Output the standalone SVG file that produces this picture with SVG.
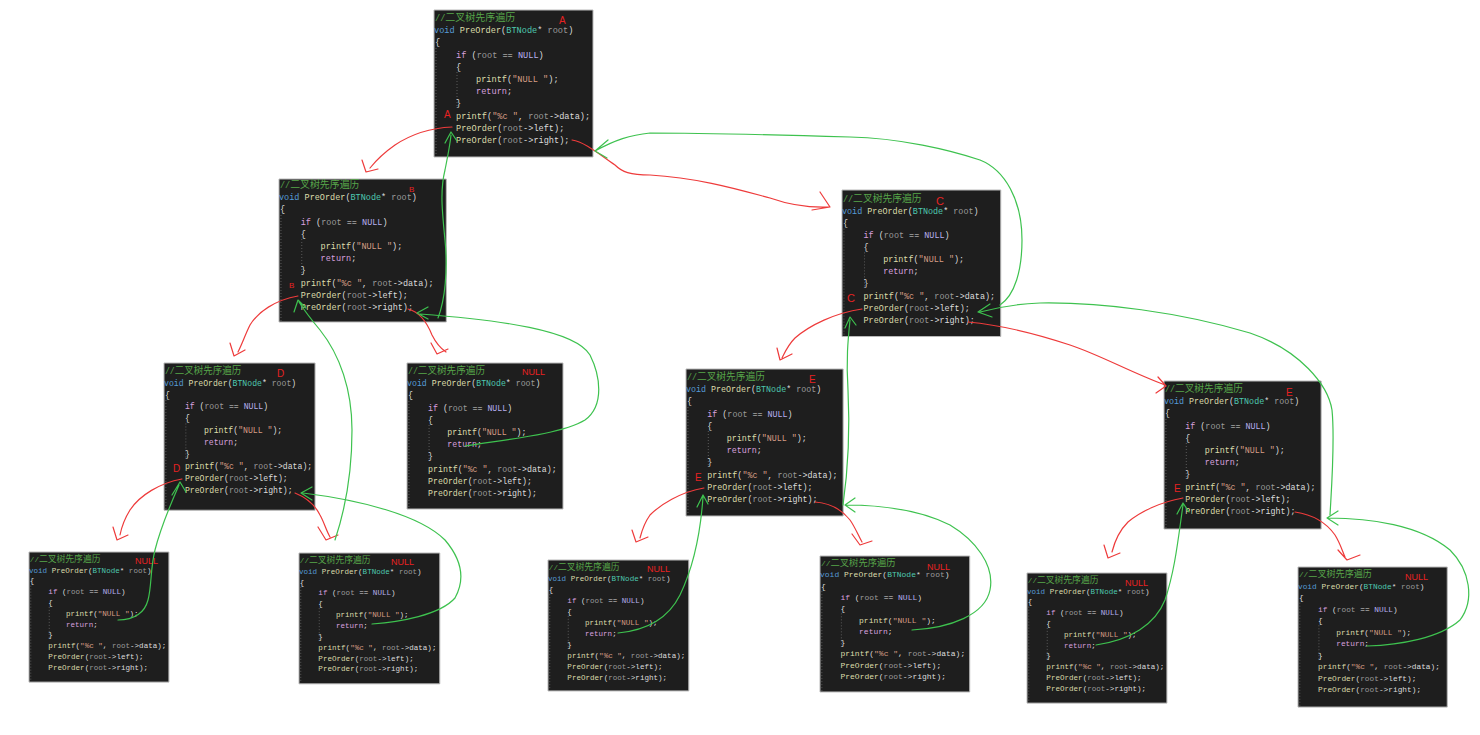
<svg xmlns="http://www.w3.org/2000/svg" width="1480" height="735" viewBox="0 0 1480 735">
<style>
.bx{fill:#1e1e1e;stroke:#b9b9b9;stroke-width:1}
.c{font-family:"Liberation Mono","DejaVu Sans Mono",monospace;font-size:8.6px;fill:#dcdcdc}
.cm{fill:#57a64a}
.cj{font-family:"Noto Sans CJK SC",sans-serif;font-size:10px}
.kw{fill:#569cd6}
.fn{fill:#dcdcaa}
.ty{fill:#4ec9b0}
.pm{fill:#9a9a9a}
.k2{fill:#d8a0df}
.mc{fill:#b8b0f0}
.st{fill:#d69d85}
.gd{fill:none;stroke:#6a6a6a;stroke-width:0.8;stroke-dasharray:1 2}
.lb{font-family:"Liberation Sans",Arial,sans-serif;font-size:10px;fill:#e62222}
.r{fill:none;stroke:#ee3b3b;stroke-width:1.2;stroke-linecap:round;stroke-linejoin:round}
.g{fill:none;stroke:#3ec24f;stroke-width:1.2;stroke-linecap:round;stroke-linejoin:round}
</style>
<rect width="1480" height="735" fill="#ffffff"/>

<g id="nodeA">
<g transform="translate(434,10)">
<rect class="bx" width="159" height="147" vector-effect="non-scaling-stroke"/>
<path class="gd" d="M2,38V146M23,62V98" vector-effect="non-scaling-stroke"/>
<text class="c" x="1" y="11"><tspan class="cm">//</tspan><tspan class="cm cj">二叉树先序遍历</tspan></text>
<text class="c" x="0" y="23.2"><tspan class="kw">void</tspan> <tspan class="fn">PreOrder</tspan>(<tspan class="ty">BTNode</tspan>* <tspan class="pm">root</tspan>)</text>
<text class="c" x="1" y="35.4">{</text>
<text class="c" x="22" y="47.6"><tspan class="k2">if</tspan> (<tspan class="pm">root</tspan> == <tspan class="mc">NULL</tspan>)</text>
<text class="c" x="22" y="59.8">{</text>
<text class="c" x="42" y="72"><tspan class="fn">printf</tspan>(<tspan class="st">"NULL "</tspan>);</text>
<text class="c" x="42" y="84.2"><tspan class="k2">return</tspan>;</text>
<text class="c" x="22" y="96.4">}</text>
<text class="c" x="22" y="108.6"><tspan class="fn">printf</tspan>(<tspan class="st">"%c "</tspan>, <tspan class="pm">root</tspan>-&gt;data);</text>
<text class="c" x="22" y="120.8"><tspan class="fn">PreOrder</tspan>(<tspan class="pm">root</tspan>-&gt;left);</text>
<text class="c" x="22" y="133"><tspan class="fn">PreOrder</tspan>(<tspan class="pm">root</tspan>-&gt;right);</text>
</g>
<text class="lb" x="559" y="24">A</text>
<text class="lb" x="444" y="118">A</text>
</g>

<g id="nodeB">
<g transform="translate(279,177) scale(0.99,1)">
<rect class="bx" y="2" width="169" height="143" vector-effect="non-scaling-stroke"/>
<path class="gd" d="M2,38V146M23,62V98" vector-effect="non-scaling-stroke"/>
<text class="c" x="1" y="11"><tspan class="cm">//</tspan><tspan class="cm cj">二叉树先序遍历</tspan></text>
<text class="c" x="0" y="23.2"><tspan class="kw">void</tspan> <tspan class="fn">PreOrder</tspan>(<tspan class="ty">BTNode</tspan>* <tspan class="pm">root</tspan>)</text>
<text class="c" x="1" y="35.4">{</text>
<text class="c" x="22" y="47.6"><tspan class="k2">if</tspan> (<tspan class="pm">root</tspan> == <tspan class="mc">NULL</tspan>)</text>
<text class="c" x="22" y="59.8">{</text>
<text class="c" x="42" y="72"><tspan class="fn">printf</tspan>(<tspan class="st">"NULL "</tspan>);</text>
<text class="c" x="42" y="84.2"><tspan class="k2">return</tspan>;</text>
<text class="c" x="22" y="96.4">}</text>
<text class="c" x="22" y="108.6"><tspan class="fn">printf</tspan>(<tspan class="st">"%c "</tspan>, <tspan class="pm">root</tspan>-&gt;data);</text>
<text class="c" x="22" y="120.8"><tspan class="fn">PreOrder</tspan>(<tspan class="pm">root</tspan>-&gt;left);</text>
<text class="c" x="22" y="133"><tspan class="fn">PreOrder</tspan>(<tspan class="pm">root</tspan>-&gt;right);</text>
</g>
<text class="lb" x="409" y="192" style="font-size:8px">B</text>
<text class="lb" x="289" y="288" style="font-size:8px">B</text>
</g>

<g id="nodeC">
<g transform="translate(842,191) scale(0.98,0.99)">
<rect class="bx" y="-1" width="162" height="148" vector-effect="non-scaling-stroke"/>
<path class="gd" d="M2,38V146M23,62V98" vector-effect="non-scaling-stroke"/>
<text class="c" x="1" y="11"><tspan class="cm">//</tspan><tspan class="cm cj">二叉树先序遍历</tspan></text>
<text class="c" x="0" y="23.2"><tspan class="kw">void</tspan> <tspan class="fn">PreOrder</tspan>(<tspan class="ty">BTNode</tspan>* <tspan class="pm">root</tspan>)</text>
<text class="c" x="1" y="35.4">{</text>
<text class="c" x="22" y="47.6"><tspan class="k2">if</tspan> (<tspan class="pm">root</tspan> == <tspan class="mc">NULL</tspan>)</text>
<text class="c" x="22" y="59.8">{</text>
<text class="c" x="42" y="72"><tspan class="fn">printf</tspan>(<tspan class="st">"NULL "</tspan>);</text>
<text class="c" x="42" y="84.2"><tspan class="k2">return</tspan>;</text>
<text class="c" x="22" y="96.4">}</text>
<text class="c" x="22" y="108.6"><tspan class="fn">printf</tspan>(<tspan class="st">"%c "</tspan>, <tspan class="pm">root</tspan>-&gt;data);</text>
<text class="c" x="22" y="120.8"><tspan class="fn">PreOrder</tspan>(<tspan class="pm">root</tspan>-&gt;left);</text>
<text class="c" x="22" y="133"><tspan class="fn">PreOrder</tspan>(<tspan class="pm">root</tspan>-&gt;right);</text>
</g>
<text class="lb" x="936" y="205" style="font-size:11px">C</text>
<text class="lb" x="847" y="302" style="font-size:11px">C</text>
</g>

<g id="nodeD">
<g transform="translate(164,363) scale(0.95,0.975)">
<rect class="bx" width="159" height="151" vector-effect="non-scaling-stroke"/>
<path class="gd" d="M2,38V150M23,62V98" vector-effect="non-scaling-stroke"/>
<text class="c" x="1" y="11"><tspan class="cm">//</tspan><tspan class="cm cj">二叉树先序遍历</tspan></text>
<text class="c" x="0" y="23.2"><tspan class="kw">void</tspan> <tspan class="fn">PreOrder</tspan>(<tspan class="ty">BTNode</tspan>* <tspan class="pm">root</tspan>)</text>
<text class="c" x="1" y="35.4">{</text>
<text class="c" x="22" y="47.6"><tspan class="k2">if</tspan> (<tspan class="pm">root</tspan> == <tspan class="mc">NULL</tspan>)</text>
<text class="c" x="22" y="59.8">{</text>
<text class="c" x="42" y="72"><tspan class="fn">printf</tspan>(<tspan class="st">"NULL "</tspan>);</text>
<text class="c" x="42" y="84.2"><tspan class="k2">return</tspan>;</text>
<text class="c" x="22" y="96.4">}</text>
<text class="c" x="22" y="108.6"><tspan class="fn">printf</tspan>(<tspan class="st">"%c "</tspan>, <tspan class="pm">root</tspan>-&gt;data);</text>
<text class="c" x="22" y="120.8"><tspan class="fn">PreOrder</tspan>(<tspan class="pm">root</tspan>-&gt;left);</text>
<text class="c" x="22" y="133"><tspan class="fn">PreOrder</tspan>(<tspan class="pm">root</tspan>-&gt;right);</text>
</g>
<text class="lb" x="277" y="377">D</text>
<text class="lb" x="173" y="472">D</text>
</g>

<g id="nodeNull1">
<g transform="translate(407,363) scale(0.96,1)">
<rect class="bx" width="162.5" height="146" vector-effect="non-scaling-stroke"/>
<path class="gd" d="M2,38V145M23,62V98" vector-effect="non-scaling-stroke"/>
<text class="c" x="1" y="11"><tspan class="cm">//</tspan><tspan class="cm cj">二叉树先序遍历</tspan></text>
<text class="c" x="0" y="23.2"><tspan class="kw">void</tspan> <tspan class="fn">PreOrder</tspan>(<tspan class="ty">BTNode</tspan>* <tspan class="pm">root</tspan>)</text>
<text class="c" x="1" y="35.4">{</text>
<text class="c" x="22" y="47.6"><tspan class="k2">if</tspan> (<tspan class="pm">root</tspan> == <tspan class="mc">NULL</tspan>)</text>
<text class="c" x="22" y="59.8">{</text>
<text class="c" x="42" y="72"><tspan class="fn">printf</tspan>(<tspan class="st">"NULL "</tspan>);</text>
<text class="c" x="42" y="84.2"><tspan class="k2">return</tspan>;</text>
<text class="c" x="22" y="96.4">}</text>
<text class="c" x="22" y="108.6"><tspan class="fn">printf</tspan>(<tspan class="st">"%c "</tspan>, <tspan class="pm">root</tspan>-&gt;data);</text>
<text class="c" x="22" y="120.8"><tspan class="fn">PreOrder</tspan>(<tspan class="pm">root</tspan>-&gt;left);</text>
<text class="c" x="22" y="133"><tspan class="fn">PreOrder</tspan>(<tspan class="pm">root</tspan>-&gt;right);</text>
</g>
<text class="lb" x="522" y="375" style="font-size:9px">NULL</text>
</g>

<g id="nodeE1">
<g transform="translate(686,369) scale(0.97,1)">
<rect class="bx" width="162" height="147" vector-effect="non-scaling-stroke"/>
<path class="gd" d="M2,38V146M23,62V98" vector-effect="non-scaling-stroke"/>
<text class="c" x="1" y="11"><tspan class="cm">//</tspan><tspan class="cm cj">二叉树先序遍历</tspan></text>
<text class="c" x="0" y="23.2"><tspan class="kw">void</tspan> <tspan class="fn">PreOrder</tspan>(<tspan class="ty">BTNode</tspan>* <tspan class="pm">root</tspan>)</text>
<text class="c" x="1" y="35.4">{</text>
<text class="c" x="22" y="47.6"><tspan class="k2">if</tspan> (<tspan class="pm">root</tspan> == <tspan class="mc">NULL</tspan>)</text>
<text class="c" x="22" y="59.8">{</text>
<text class="c" x="42" y="72"><tspan class="fn">printf</tspan>(<tspan class="st">"NULL "</tspan>);</text>
<text class="c" x="42" y="84.2"><tspan class="k2">return</tspan>;</text>
<text class="c" x="22" y="96.4">}</text>
<text class="c" x="22" y="108.6"><tspan class="fn">printf</tspan>(<tspan class="st">"%c "</tspan>, <tspan class="pm">root</tspan>-&gt;data);</text>
<text class="c" x="22" y="120.8"><tspan class="fn">PreOrder</tspan>(<tspan class="pm">root</tspan>-&gt;left);</text>
<text class="c" x="22" y="133"><tspan class="fn">PreOrder</tspan>(<tspan class="pm">root</tspan>-&gt;right);</text>
</g>
<text class="lb" x="809" y="383">E</text>
<text class="lb" x="695" y="481">E</text>
</g>

<g id="nodeE2">
<g transform="translate(1164,381) scale(0.97,1)">
<rect class="bx" width="162" height="148" vector-effect="non-scaling-stroke"/>
<path class="gd" d="M2,38V147M23,62V98" vector-effect="non-scaling-stroke"/>
<text class="c" x="1" y="11"><tspan class="cm">//</tspan><tspan class="cm cj">二叉树先序遍历</tspan></text>
<text class="c" x="0" y="23.2"><tspan class="kw">void</tspan> <tspan class="fn">PreOrder</tspan>(<tspan class="ty">BTNode</tspan>* <tspan class="pm">root</tspan>)</text>
<text class="c" x="1" y="35.4">{</text>
<text class="c" x="22" y="47.6"><tspan class="k2">if</tspan> (<tspan class="pm">root</tspan> == <tspan class="mc">NULL</tspan>)</text>
<text class="c" x="22" y="59.8">{</text>
<text class="c" x="42" y="72"><tspan class="fn">printf</tspan>(<tspan class="st">"NULL "</tspan>);</text>
<text class="c" x="42" y="84.2"><tspan class="k2">return</tspan>;</text>
<text class="c" x="22" y="96.4">}</text>
<text class="c" x="22" y="108.6"><tspan class="fn">printf</tspan>(<tspan class="st">"%c "</tspan>, <tspan class="pm">root</tspan>-&gt;data);</text>
<text class="c" x="22" y="120.8"><tspan class="fn">PreOrder</tspan>(<tspan class="pm">root</tspan>-&gt;left);</text>
<text class="c" x="22" y="133"><tspan class="fn">PreOrder</tspan>(<tspan class="pm">root</tspan>-&gt;right);</text>
</g>
<text class="lb" x="1286" y="396">E</text>
<text class="lb" x="1174" y="492">E</text>
</g>

<g id="nodeNull2">
<g transform="translate(29,552) scale(0.88,0.885)">
<rect class="bx" width="159" height="147" vector-effect="non-scaling-stroke"/>
<path class="gd" d="M2,38V146M23,62V98" vector-effect="non-scaling-stroke"/>
<text class="c" x="1" y="11"><tspan class="cm">//</tspan><tspan class="cm cj">二叉树先序遍历</tspan></text>
<text class="c" x="0" y="23.2"><tspan class="kw">void</tspan> <tspan class="fn">PreOrder</tspan>(<tspan class="ty">BTNode</tspan>* <tspan class="pm">root</tspan>)</text>
<text class="c" x="1" y="35.4">{</text>
<text class="c" x="22" y="47.6"><tspan class="k2">if</tspan> (<tspan class="pm">root</tspan> == <tspan class="mc">NULL</tspan>)</text>
<text class="c" x="22" y="59.8">{</text>
<text class="c" x="42" y="72"><tspan class="fn">printf</tspan>(<tspan class="st">"NULL "</tspan>);</text>
<text class="c" x="42" y="84.2"><tspan class="k2">return</tspan>;</text>
<text class="c" x="22" y="96.4">}</text>
<text class="c" x="22" y="108.6"><tspan class="fn">printf</tspan>(<tspan class="st">"%c "</tspan>, <tspan class="pm">root</tspan>-&gt;data);</text>
<text class="c" x="22" y="120.8"><tspan class="fn">PreOrder</tspan>(<tspan class="pm">root</tspan>-&gt;left);</text>
<text class="c" x="22" y="133"><tspan class="fn">PreOrder</tspan>(<tspan class="pm">root</tspan>-&gt;right);</text>
</g>
<text class="lb" x="135" y="564" style="font-size:9px">NULL</text>
</g>

<g id="nodeNull3">
<g transform="translate(299,553) scale(0.88,0.89)">
<rect class="bx" width="160" height="147" vector-effect="non-scaling-stroke"/>
<path class="gd" d="M2,38V146M23,62V98" vector-effect="non-scaling-stroke"/>
<text class="c" x="1" y="11"><tspan class="cm">//</tspan><tspan class="cm cj">二叉树先序遍历</tspan></text>
<text class="c" x="0" y="23.2"><tspan class="kw">void</tspan> <tspan class="fn">PreOrder</tspan>(<tspan class="ty">BTNode</tspan>* <tspan class="pm">root</tspan>)</text>
<text class="c" x="1" y="35.4">{</text>
<text class="c" x="22" y="47.6"><tspan class="k2">if</tspan> (<tspan class="pm">root</tspan> == <tspan class="mc">NULL</tspan>)</text>
<text class="c" x="22" y="59.8">{</text>
<text class="c" x="42" y="72"><tspan class="fn">printf</tspan>(<tspan class="st">"NULL "</tspan>);</text>
<text class="c" x="42" y="84.2"><tspan class="k2">return</tspan>;</text>
<text class="c" x="22" y="96.4">}</text>
<text class="c" x="22" y="108.6"><tspan class="fn">printf</tspan>(<tspan class="st">"%c "</tspan>, <tspan class="pm">root</tspan>-&gt;data);</text>
<text class="c" x="22" y="120.8"><tspan class="fn">PreOrder</tspan>(<tspan class="pm">root</tspan>-&gt;left);</text>
<text class="c" x="22" y="133"><tspan class="fn">PreOrder</tspan>(<tspan class="pm">root</tspan>-&gt;right);</text>
</g>
<text class="lb" x="391" y="565" style="font-size:9px">NULL</text>
</g>

<g id="nodeNull4">
<g transform="translate(548,560) scale(0.88,0.9)">
<rect class="bx" width="160" height="145.5" vector-effect="non-scaling-stroke"/>
<path class="gd" d="M2,38V145M23,62V98" vector-effect="non-scaling-stroke"/>
<text class="c" x="1" y="11"><tspan class="cm">//</tspan><tspan class="cm cj">二叉树先序遍历</tspan></text>
<text class="c" x="0" y="23.2"><tspan class="kw">void</tspan> <tspan class="fn">PreOrder</tspan>(<tspan class="ty">BTNode</tspan>* <tspan class="pm">root</tspan>)</text>
<text class="c" x="1" y="35.4">{</text>
<text class="c" x="22" y="47.6"><tspan class="k2">if</tspan> (<tspan class="pm">root</tspan> == <tspan class="mc">NULL</tspan>)</text>
<text class="c" x="22" y="59.8">{</text>
<text class="c" x="42" y="72"><tspan class="fn">printf</tspan>(<tspan class="st">"NULL "</tspan>);</text>
<text class="c" x="42" y="84.2"><tspan class="k2">return</tspan>;</text>
<text class="c" x="22" y="96.4">}</text>
<text class="c" x="22" y="108.6"><tspan class="fn">printf</tspan>(<tspan class="st">"%c "</tspan>, <tspan class="pm">root</tspan>-&gt;data);</text>
<text class="c" x="22" y="120.8"><tspan class="fn">PreOrder</tspan>(<tspan class="pm">root</tspan>-&gt;left);</text>
<text class="c" x="22" y="133"><tspan class="fn">PreOrder</tspan>(<tspan class="pm">root</tspan>-&gt;right);</text>
</g>
<text class="lb" x="647" y="572" style="font-size:9px">NULL</text>
</g>

<g id="nodeNull5">
<g transform="translate(820,556) scale(0.93,0.925)">
<rect class="bx" width="161" height="147" vector-effect="non-scaling-stroke"/>
<path class="gd" d="M2,38V146M23,62V98" vector-effect="non-scaling-stroke"/>
<text class="c" x="1" y="11"><tspan class="cm">//</tspan><tspan class="cm cj">二叉树先序遍历</tspan></text>
<text class="c" x="0" y="23.2"><tspan class="kw">void</tspan> <tspan class="fn">PreOrder</tspan>(<tspan class="ty">BTNode</tspan>* <tspan class="pm">root</tspan>)</text>
<text class="c" x="1" y="35.4">{</text>
<text class="c" x="22" y="47.6"><tspan class="k2">if</tspan> (<tspan class="pm">root</tspan> == <tspan class="mc">NULL</tspan>)</text>
<text class="c" x="22" y="59.8">{</text>
<text class="c" x="42" y="72"><tspan class="fn">printf</tspan>(<tspan class="st">"NULL "</tspan>);</text>
<text class="c" x="42" y="84.2"><tspan class="k2">return</tspan>;</text>
<text class="c" x="22" y="96.4">}</text>
<text class="c" x="22" y="108.6"><tspan class="fn">printf</tspan>(<tspan class="st">"%c "</tspan>, <tspan class="pm">root</tspan>-&gt;data);</text>
<text class="c" x="22" y="120.8"><tspan class="fn">PreOrder</tspan>(<tspan class="pm">root</tspan>-&gt;left);</text>
<text class="c" x="22" y="133"><tspan class="fn">PreOrder</tspan>(<tspan class="pm">root</tspan>-&gt;right);</text>
</g>
<text class="lb" x="927" y="570" style="font-size:9px">NULL</text>
</g>

<g id="nodeNull6">
<g transform="translate(1027,573) scale(0.88,0.885)">
<rect class="bx" width="159" height="147" vector-effect="non-scaling-stroke"/>
<path class="gd" d="M2,38V146M23,62V98" vector-effect="non-scaling-stroke"/>
<text class="c" x="1" y="11"><tspan class="cm">//</tspan><tspan class="cm cj">二叉树先序遍历</tspan></text>
<text class="c" x="0" y="23.2"><tspan class="kw">void</tspan> <tspan class="fn">PreOrder</tspan>(<tspan class="ty">BTNode</tspan>* <tspan class="pm">root</tspan>)</text>
<text class="c" x="1" y="35.4">{</text>
<text class="c" x="22" y="47.6"><tspan class="k2">if</tspan> (<tspan class="pm">root</tspan> == <tspan class="mc">NULL</tspan>)</text>
<text class="c" x="22" y="59.8">{</text>
<text class="c" x="42" y="72"><tspan class="fn">printf</tspan>(<tspan class="st">"NULL "</tspan>);</text>
<text class="c" x="42" y="84.2"><tspan class="k2">return</tspan>;</text>
<text class="c" x="22" y="96.4">}</text>
<text class="c" x="22" y="108.6"><tspan class="fn">printf</tspan>(<tspan class="st">"%c "</tspan>, <tspan class="pm">root</tspan>-&gt;data);</text>
<text class="c" x="22" y="120.8"><tspan class="fn">PreOrder</tspan>(<tspan class="pm">root</tspan>-&gt;left);</text>
<text class="c" x="22" y="133"><tspan class="fn">PreOrder</tspan>(<tspan class="pm">root</tspan>-&gt;right);</text>
</g>
<text class="lb" x="1125" y="586" style="font-size:9px">NULL</text>
</g>

<g id="nodeNull7">
<g transform="translate(1298,567) scale(0.91,0.94)">
<rect class="bx" width="164" height="149" vector-effect="non-scaling-stroke"/>
<path class="gd" d="M2,38V148M23,62V98" vector-effect="non-scaling-stroke"/>
<text class="c" x="1" y="11"><tspan class="cm">//</tspan><tspan class="cm cj">二叉树先序遍历</tspan></text>
<text class="c" x="0" y="23.2"><tspan class="kw">void</tspan> <tspan class="fn">PreOrder</tspan>(<tspan class="ty">BTNode</tspan>* <tspan class="pm">root</tspan>)</text>
<text class="c" x="1" y="35.4">{</text>
<text class="c" x="22" y="47.6"><tspan class="k2">if</tspan> (<tspan class="pm">root</tspan> == <tspan class="mc">NULL</tspan>)</text>
<text class="c" x="22" y="59.8">{</text>
<text class="c" x="42" y="72"><tspan class="fn">printf</tspan>(<tspan class="st">"NULL "</tspan>);</text>
<text class="c" x="42" y="84.2"><tspan class="k2">return</tspan>;</text>
<text class="c" x="22" y="96.4">}</text>
<text class="c" x="22" y="108.6"><tspan class="fn">printf</tspan>(<tspan class="st">"%c "</tspan>, <tspan class="pm">root</tspan>-&gt;data);</text>
<text class="c" x="22" y="120.8"><tspan class="fn">PreOrder</tspan>(<tspan class="pm">root</tspan>-&gt;left);</text>
<text class="c" x="22" y="133"><tspan class="fn">PreOrder</tspan>(<tspan class="pm">root</tspan>-&gt;right);</text>
</g>
<text class="lb" x="1405" y="580" style="font-size:9px">NULL</text>
</g>

<g id="connectors">
<!-- red: calls -->
<path class="r" d="M452,127 C430,128 410,135 395,145 C385,152 378,158 370,168 M362,160 L366,172 L378,169"/>
<path class="r" d="M572,140 C585,142 600,155 615,165 C622,172 630,175 650,175 C700,178 740,190 770,198 C790,205 810,208 830,207 M820,192 L830,207 L812,210"/>
<path class="r" d="M298,296 C275,300 258,312 250,325 C245,335 243,342 238,352 M230,343 L234,356 L245,350"/>
<path class="r" d="M408,309 C420,312 428,325 432,335 C436,343 440,348 446,352 M431,343 L437,354 L448,349"/>
<path class="r" d="M862,309 C835,313 810,325 795,338 C788,345 785,352 782,358 M777,348 L780,360 L792,354"/>
<path class="r" d="M968,322 C1000,325 1040,335 1070,345 C1100,355 1130,372 1165,385 M1158,377 L1166,386 L1156,393"/>
<path class="r" d="M182,479 C160,483 140,495 130,510 C125,518 122,525 120,535 M113,527 L117,540 L128,535"/>
<path class="r" d="M295,493 C305,497 315,505 320,515 C324,522 326,530 330,537 M318,527 L326,540 L338,535"/>
<path class="r" d="M704,488 C680,492 660,505 650,515 C645,522 642,530 640,538 M632,530 L636,542 L648,537"/>
<path class="r" d="M815,502 C830,503 842,510 850,520 C855,527 858,535 862,542 M852,534 L860,545 L872,541"/>
<path class="r" d="M1183,498 C1160,502 1140,512 1128,522 C1120,530 1115,540 1112,552 M1104,545 L1108,558 L1120,553"/>
<path class="r" d="M1295,512 C1315,515 1328,525 1335,535 C1340,543 1342,550 1345,557 M1338,550 L1347,560 L1360,555"/>
<!-- green: returns -->
<path class="g" d="M118,620 C135,620 145,612 148,600 C152,585 150,570 155,550 C160,530 168,510 179,485 M172,495 L180,482 L186,492"/>
<path class="g" d="M372,624 C400,622 440,615 455,598 C465,580 462,560 445,540 C420,515 360,500 303,493 M312,487 L301,493 L312,500"/>
<path class="g" d="M335,540 C345,510 352,470 352,430 C352,390 340,355 320,330 C310,318 304,310 299,302 M294,312 L298,300 L306,308"/>
<path class="g" d="M465,446 C500,440 560,435 585,420 C605,405 600,375 590,355 C575,330 500,320 420,314 M428,307 L417,313 L428,319"/>
<path class="g" d="M438,318 C445,300 448,270 445,240 C442,210 440,190 445,170 C448,155 450,145 451,135 M445,143 L451,132 L457,141"/>
<path class="g" d="M1000,305 C1015,295 1022,270 1022,240 C1022,200 1005,170 980,160 C950,150 900,138 850,137 C780,135 700,133 650,133 C630,135 615,140 595,151 M608,140 L595,151 L607,158"/>
<path class="g" d="M1330,515 C1332,480 1335,440 1332,410 C1328,385 1300,350 1250,333 C1180,312 1100,302 1040,303 C1015,304 995,308 980,312 M990,304 L978,312 L992,317"/>
<path class="g" d="M843,505 C848,470 850,430 848,390 C846,360 848,340 850,320 M845,328 L850,317 L856,325"/>
<path class="g" d="M618,633 C650,630 670,615 680,595 C692,570 700,540 703,497 M697,507 L703,495 L708,504"/>
<path class="g" d="M912,630 C950,628 985,615 990,590 C995,565 975,540 950,525 C920,510 880,505 845,505 M855,498 L845,505 L855,512"/>
<path class="g" d="M1096,645 C1130,640 1155,625 1165,600 C1175,570 1178,540 1183,505 M1177,514 L1183,503 L1189,512"/>
<path class="g" d="M1367,646 C1400,645 1440,638 1460,620 C1475,600 1470,570 1450,550 C1420,525 1370,518 1328,518 M1338,511 L1327,518 L1338,525"/>
</g>
</svg>
